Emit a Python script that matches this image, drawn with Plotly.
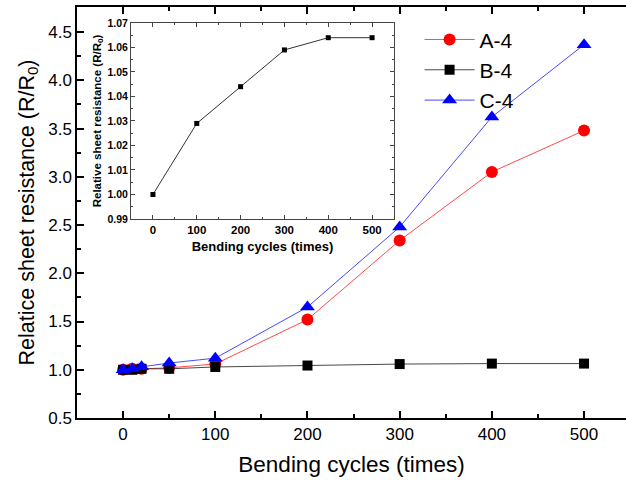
import plotly.graph_objects as go

# Bending-cycle data
cycles = [0, 10, 20, 50, 100, 200, 300, 400, 500]
a4 = [1.00, 1.01, 1.01, 1.02, 1.06, 1.52, 2.34, 3.05, 3.48]
b4 = [1.00, 1.00, 1.01, 1.01, 1.029, 1.044, 1.059, 1.064, 1.064]
c4 = [1.00, 1.01, 1.03, 1.07, 1.12, 1.65, 2.48, 3.62, 4.37]

# Inset: B-4 zoomed
inset_cycles = [0, 100, 200, 300, 400, 500]
inset_b4 = [1.000, 1.029, 1.044, 1.059, 1.064, 1.064]

FONT = "Liberation Sans, Arial, sans-serif"

fig = go.Figure()

fig.add_trace(go.Scatter(
    x=cycles, y=a4, name="A-4", mode="lines+markers",
    line=dict(color="rgba(255,40,40,0.85)", width=1),
    marker=dict(symbol="circle", size=12, color="#ff0000"),
))
fig.add_trace(go.Scatter(
    x=cycles, y=b4, name="B-4", mode="lines+markers",
    line=dict(color="rgba(40,40,40,0.85)", width=1),
    marker=dict(symbol="square", size=10, color="#000000"),
))
fig.add_trace(go.Scatter(
    x=cycles, y=c4, name="C-4", mode="lines+markers",
    line=dict(color="rgba(40,40,255,0.85)", width=1),
    marker=dict(symbol="triangle-up", size=13, color="#0000ff"),
))

fig.add_trace(go.Scatter(
    x=inset_cycles, y=inset_b4, mode="lines+markers", showlegend=False,
    xaxis="x3", yaxis="y3",
    line=dict(color="#333333", width=1),
    marker=dict(symbol="square", size=5, color="#000000"),
))

fig.update_layout(
    width=626, height=480,
    margin=dict(l=77, r=0, t=7, b=62),
    paper_bgcolor="white", plot_bgcolor="white",
    font=dict(family=FONT, color="black"),
    showlegend=True,
    legend=dict(
        x=0.624, y=0.97, xanchor="left", yanchor="top",
        font=dict(size=21, family=FONT), bgcolor="rgba(0,0,0,0)",
        itemwidth=50, tracegroupgap=0,
    ),
    xaxis=dict(
        range=[-50, 545.5], tickmode="linear", tick0=0, dtick=100,
        showline=True, linecolor="black", linewidth=1.5, mirror="ticks",
        ticks="inside", ticklen=7, tickwidth=1.5, tickcolor="black",
        minor=dict(ticks="inside", ticklen=4, tickwidth=1.5, dtick=50, tick0=0, tickcolor="black"),
        showgrid=False, zeroline=False,
        tickfont=dict(size=17),
        title=dict(text="Bending cycles (times)", font=dict(size=22.5), standoff=13),
    ),
    yaxis=dict(
        range=[0.5, 4.76], tickmode="linear", tick0=0.5, dtick=0.5, tickformat=".1f",
        showline=True, linecolor="black", linewidth=1.5, mirror=False,
        ticks="inside", ticklen=7, tickwidth=1.5, tickcolor="black",
        minor=dict(ticks="inside", ticklen=4, tickwidth=1.5, dtick=0.25, tick0=0.5, tickcolor="black"),
        showgrid=False, zeroline=False,
        tickfont=dict(size=17),
        title=dict(text="Relatice sheet resistance (R/R<sub>0</sub>)", font=dict(size=21.5), standoff=8),
    ),
    yaxis2=dict(
        overlaying="y", side="right", anchor="x", matches="y",
        showline=False, showticklabels=False, showgrid=False, zeroline=False,
        ticks="inside", ticklen=7, tickwidth=1.5, tickcolor="black",
        tickmode="linear", tick0=0.5, dtick=0.5,
        minor=dict(ticks="inside", ticklen=4, tickwidth=1.5, dtick=0.25, tick0=0.5, tickcolor="black"),
    ),
    xaxis3=dict(
        domain=[0.0984, 0.5774], anchor="y3",
        range=[-50, 550], tickmode="linear", tick0=0, dtick=100,
        showline=True, linecolor="#444444", linewidth=1, mirror="ticks",
        ticks="inside", ticklen=4, tickwidth=1, tickcolor="#444444",
        minor=dict(ticks="inside", ticklen=2, tickwidth=1, dtick=50, tick0=0, tickcolor="#444444"),
        showgrid=False, zeroline=False,
        tickfont=dict(size=11.5, weight="bold"),
        title=dict(text="Bending cycles (times)", font=dict(size=13, weight="bold"), standoff=7),
    ),
    yaxis3=dict(
        domain=[0.4842, 0.9611], anchor="x3",
        range=[0.99, 1.07], tickmode="linear", tick0=0.99, dtick=0.01, tickformat=".2f",
        showline=True, linecolor="#444444", linewidth=1, mirror="ticks",
        ticks="inside", ticklen=4, tickwidth=1, tickcolor="#444444",
        minor=dict(ticks="inside", ticklen=2, tickwidth=1, dtick=0.005, tick0=0.99, tickcolor="#444444"),
        showgrid=False, zeroline=False,
        tickfont=dict(size=10.5, weight="bold"),
        title=dict(text="Relative sheet resistance (R/R<sub>0</sub>)", font=dict(size=11.5, weight="bold"), standoff=3),
    ),
)

fig.write_html("out.html")
